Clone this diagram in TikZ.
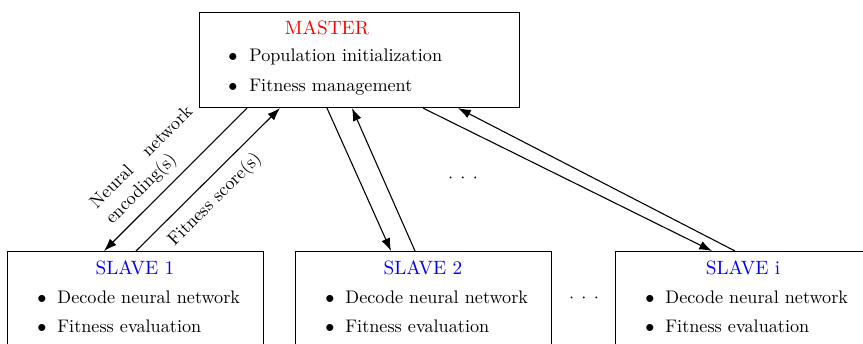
\documentclass[tikz,border=0pt]{standalone}
\usetikzlibrary{arrows.meta,calc}
\begin{document}
\begin{tikzpicture}[x=0.55pt,y=-0.55pt,
  box/.style={draw,line width=0.6pt,rectangle,anchor=north west,inner sep=0pt},
  masterbox/.style={box,minimum width=176pt,minimum height=52.25pt},
  slavebox/.style={box,minimum width=140.8pt,minimum height=66pt},
  title/.style={anchor=base,inner sep=0pt,font=\fontsize{10.6pt}{12pt}\selectfont},
  itemtext/.style={anchor=base west,inner sep=0pt},
  bul/.style={anchor=base,inner sep=0pt},
  link/.style={line width=0.6pt,-{Latex[length=7pt,width=5pt]}},
  lbl/.style={rotate=45,inner sep=0pt},
  gap/.style={inner sep=0pt}
]
\useasboundingbox (0,0) rectangle (863,344);
\clip (0,0) rectangle (863,344);

% boxes
\node[masterbox] (M) at (199,12) {};
\node[slavebox] (S1) at (7,251) {};
\node[slavebox] (S2) at (295,251) {};
\node[slavebox] (Si) at (615,251) {};

% master contents
\node[title,text=red] (Mt) at (327,35) {MASTER};
\node[bul] (Mb1) at (233,62) {$\bullet$};
\node[itemtext] (Mi1) at (249,62) {Population initialization};
\node[bul] (Mb2) at (233,92) {$\bullet$};
\node[itemtext] (Mi2) at (249,92) {Fitness management};

% slave contents
\foreach \n/\x/\t in {S1/7/1, S2/295/2, Si/615/i} {
  \node[title,text=blue] (\n-t) at (\x+128,275) {SLAVE \t};
  \node[bul] (\n-b1) at (\x+35,304) {$\bullet$};
  \node[itemtext] (\n-i1) at (\x+50,304) {Decode neural network};
  \node[bul] (\n-b2) at (\x+35,333) {$\bullet$};
  \node[itemtext] (\n-i2) at (\x+50,333) {Fitness evaluation};
}

% connectors
\draw[link] ($(M.south west)+(48,0)$) -- ($(S1.north west)+(97,0)$);
\draw[link] ($(S1.north west)+(129,0)$) -- ($(M.south west)+(81,0)$);
\draw[link] ($(M.south west)+(128,0)$) -- ($(S2.north west)+(96,0)$);
\draw[link] ($(S2.north west)+(120,0)$) -- ($(M.south west)+(153,0)$);
\draw[link] ($(M.south west)+(224,0)$) -- ($(Si.north west)+(97,0)$);
\draw[link] ($(Si.north west)+(120,0)$) -- ($(M.south west)+(259,0)$);

% connector labels
\node[lbl,text width=75pt,align=justify] (enc) at (150,166) {Neural network encoding(s)};
\node[lbl] (fit) at (215,200) {Fitness score(s)};

% ellipses
\node[gap] (d1) at (463,178) {${\cdot}\hspace{4pt}{\cdot}\hspace{4pt}{\cdot}$};
\node[gap] (d2) at (584,298) {${\cdot}\hspace{4pt}{\cdot}\hspace{4pt}{\cdot}$};
\end{tikzpicture}
\end{document}
